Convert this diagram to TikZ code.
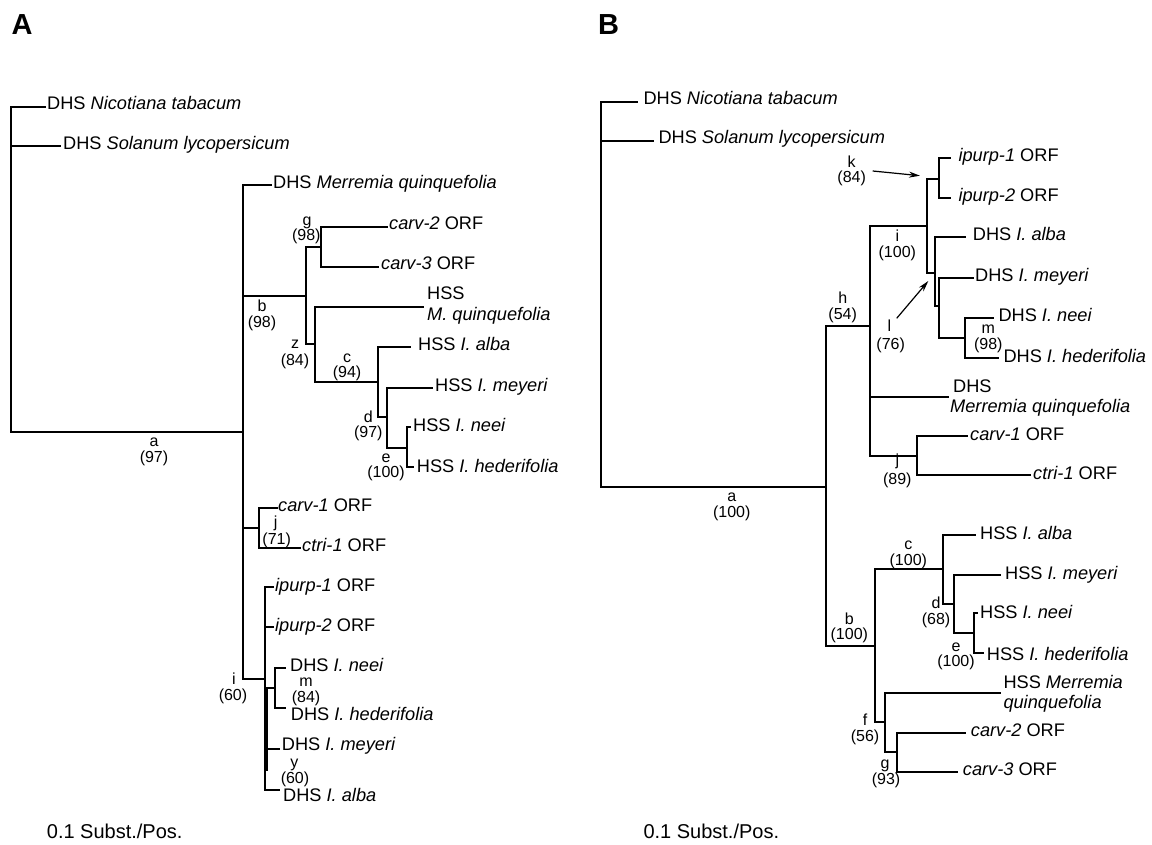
\documentclass[tikz,border=0pt]{standalone}
\usepackage{fontspec}
\setmainfont{Liberation Sans}
\usetikzlibrary{arrows.meta}
\newcommand{\myleaf}{\fontsize{18.2}{20}\selectfont}
\newcommand{\mylab}{\fontsize{16}{16}\selectfont}
\newcommand{\myscale}{\fontsize{20}{22}\selectfont}
\newcommand{\mypanel}{\fontsize{29}{30}\selectfont\bfseries}
\begin{document}
\begin{tikzpicture}[x=1pt,y=-1pt,
  br/.style={line width=2.2pt,line cap=rect,line join=miter},
  leaf/.style={anchor=base west,inner sep=0pt,font=\myleaf},
  lab/.style={anchor=center,inner sep=0pt,text height=11.5pt,text depth=0pt,font=\mylab},
  arr/.style={line width=1.2pt,-{Stealth[length=11pt,width=6pt]}},
  panel/.style={anchor=base west,inner sep=0pt,font=\mypanel},
  scaletxt/.style={anchor=base west,inner sep=0pt,font=\myscale}]
\useasboundingbox (0,0) rectangle (1152,845);
\fill[white] (0,0) rectangle (1152,845);
% ---------------- Panel A ----------------
\node[panel] (PA) at (11.5,34.3) {A};
\coordinate (Ar) at (11,106.7);
\coordinate (Anic) at (45,106.7);
\coordinate (Asol) at (60,146);
\coordinate (Aa) at (243,432);
\coordinate (Amer) at (270.7,185);
\coordinate (Ab) at (306,295.7);
\coordinate (Ag) at (320.7,246.7);
\coordinate (Acarv2) at (386.7,226.7);
\coordinate (Acarv3) at (378,266.7);
\coordinate (Az) at (315,344);
\coordinate (AhssM) at (422.7,306.7);
\coordinate (Ac) at (378.3,381.7);
\coordinate (AhssA) at (410,346.7);
\coordinate (Ad) at (387.3,417.3);
\coordinate (AhssMe) at (431.7,387.7);
\coordinate (Ae) at (407.3,448.3);
\coordinate (AhssN) at (410,427.3);
\coordinate (AhssH) at (413,467.3);
\coordinate (Aj) at (259.3,528.3);
\coordinate (Acarv1) at (276.7,507.7);
\coordinate (Actri1) at (300,548.3);
\coordinate (Ai) at (264.7,679);
\coordinate (Aip1) at (273.3,586.7);
\coordinate (Aip2) at (273.3,626.7);
\coordinate (Am) at (275,688.3);
\coordinate (AdhsN) at (285,668.3);
\coordinate (AdhsH) at (285,708.3);
\coordinate (AdhsMe) at (279.3,749.3);
\coordinate (AdhsA) at (279,790);
\coordinate (Ay1) at (266.6,688.3);
\coordinate (Ay2) at (266.6,770);

\foreach \p/\c in {Ar/Anic,Ar/Asol,Ar/Aa,Aa/Amer,Aa/Ab,Aa/Aj,Aa/Ai,Ab/Ag,Ab/Az,
  Ag/Acarv2,Ag/Acarv3,Az/AhssM,Az/Ac,Ac/AhssA,Ac/Ad,Ad/AhssMe,Ad/Ae,Ae/AhssN,Ae/AhssH,
  Aj/Acarv1,Aj/Actri1,Ai/Aip1,Ai/Aip2,Ai/Am,Ai/AdhsMe,Ai/AdhsA,Am/AdhsN,Am/AdhsH}
  \draw[br] (\p) |- (\c);
\draw[br] (Ay1) -- (Ay2);

\node[leaf] (LAnic) at (47,110) {DHS \textit{Nicotiana tabacum}};
\node[leaf] (LAsol) at (63,149.3) {DHS \textit{Solanum lycopersicum}};
\node[leaf] (LAmer) at (273,188.3) {DHS \textit{Merremia quinquefolia}};
\node[leaf] (LAcarv2) at (389,230) {\textit{carv-2} ORF};
\node[leaf] (LAcarv3) at (381,270) {\textit{carv-3} ORF};
\node[leaf] (LAhssM1) at (427,300) {HSS};
\node[leaf] (LAhssM2) at (427,320.7) {\textit{M. quinquefolia}};
\node[leaf] (LAhssA) at (418,350.5) {HSS \textit{I. alba}};
\node[leaf] (LAhssMe) at (435,391.5) {HSS \textit{I. meyeri}};
\node[leaf] (LAhssN) at (413,431.5) {HSS \textit{I. neei}};
\node[leaf] (LAhssH) at (416.7,472) {HSS \textit{I. hederifolia}};
\node[leaf] (LAcarv1) at (278,511.4) {\textit{carv-1} ORF};
\node[leaf] (LActri1) at (302,551.6) {\textit{ctri-1} ORF};
\node[leaf] (LAip1) at (275,591) {\textit{ipurp-1} ORF};
\node[leaf] (LAip2) at (275,631) {\textit{ipurp-2} ORF};
\node[leaf] (LAdhsN) at (290,671.6) {DHS \textit{I. neei}};
\node[leaf] (LAdhsH) at (290.7,720.5) {DHS \textit{I. hederifolia}};
\node[leaf] (LAdhsMe) at (281.7,750.8) {DHS \textit{I. meyeri}};
\node[leaf] (LAdhsA) at (283,801) {DHS \textit{I. alba}};

\foreach \n/\l/\x/\y/\v/\xx/\yy in {a/a/154/441/97/154/457, b/b/262/305.7/98/262/321.7,
  g/g/307/220/98/306.3/235, z/z/295/342.7/84/295/360, c/c/347/356.7/94/347/371.7,
  d/d/368.3/416.7/97/368.3/431.7, e/e/386/456.7/100/386/471.7,
  j/j/275.7/521.7/71/276.7/538.3, i/i/234/679/60/233/695, m/m/306/680.7/84/306/696.7,
  y/y/294.3/762/60/295/778}{
  \node[lab] (Al\n) at (\x,\y) {\l};
  \node[lab] (Av\n) at (\xx,\yy) {(\v)};
}
\node[scaletxt] (SA) at (46.7,838) {0.1 Subst./Pos.};

% ---------------- Panel B ----------------
\node[panel] (PB) at (598,34.3) {B};
\coordinate (Br) at (600.7,101.7);
\coordinate (Bnic) at (636.7,101.7);
\coordinate (Bsol) at (652.7,140.7);
\coordinate (Ba) at (825.7,486.7);
\coordinate (Bh) at (870,326);
\coordinate (Bi) at (927.3,225.7);
\coordinate (Bk) at (939.3,179);
\coordinate (Bip1) at (950,158.3);
\coordinate (Bip2) at (950,198.3);
\coordinate (Bl) at (935,272.7);
\coordinate (BdhsA) at (965,237.3);
\coordinate (Bx) at (939.3,306);
\coordinate (BdhsMe) at (972.7,278.3);
\coordinate (Bm) at (965,338.3);
\coordinate (BdhsN) at (993.3,317.7);
\coordinate (BdhsH) at (998.3,357.7);
\coordinate (Bmer) at (948.3,396.7);
\coordinate (Bj) at (916.7,455.7);
\coordinate (Bcarv1) at (966.7,436);
\coordinate (Bctri1) at (1030,475);
\coordinate (Bb) at (875,645.7);
\coordinate (Bc) at (943.3,569);
\coordinate (BhssA) at (975,535);
\coordinate (Bd) at (954,604);
\coordinate (BhssMe) at (1000,575);
\coordinate (Be) at (974,633.3);
\coordinate (BhssN) at (977.3,613.3);
\coordinate (BhssH) at (983.3,653.3);
\coordinate (Bf) at (885,721.7);
\coordinate (BhssM) at (1000,692.7);
\coordinate (Bg) at (897.3,751.7);
\coordinate (Bcarv2) at (965,732.7);
\coordinate (Bcarv3) at (956.7,771.7);

\foreach \p/\c in {Br/Bnic,Br/Bsol,Br/Ba,Ba/Bh,Ba/Bb,Bh/Bi,Bh/Bmer,Bh/Bj,Bi/Bk,Bi/Bl,
  Bk/Bip1,Bk/Bip2,Bl/BdhsA,Bl/Bx,Bx/BdhsMe,Bx/Bm,Bm/BdhsN,Bm/BdhsH,Bj/Bcarv1,Bj/Bctri1,
  Bb/Bc,Bb/Bf,Bc/BhssA,Bc/Bd,Bd/BhssMe,Bd/Be,Be/BhssN,Be/BhssH,Bf/BhssM,Bf/Bg,
  Bg/Bcarv2,Bg/Bcarv3}
  \draw[br] (\p) |- (\c);

\node[leaf] (LBnic) at (643.3,105) {DHS \textit{Nicotiana tabacum}};
\node[leaf] (LBsol) at (658.3,144) {DHS \textit{Solanum lycopersicum}};
\node[leaf] (LBip1) at (958.3,161.7) {\textit{ipurp-1} ORF};
\node[leaf] (LBip2) at (958.3,201.7) {\textit{ipurp-2} ORF};
\node[leaf] (LBdhsA) at (972.7,241) {DHS \textit{I. alba}};
\node[leaf] (LBdhsMe) at (975,282) {DHS \textit{I. meyeri}};
\node[leaf] (LBdhsN) at (998.3,321) {DHS \textit{I. neei}};
\node[leaf] (LBdhsH) at (1003.3,362) {DHS \textit{I. hederifolia}};
\node[leaf] (LBmer1) at (953,392.4) {DHS};
\node[leaf] (LBmer2) at (950,412.4) {\textit{Merremia quinquefolia}};
\node[leaf] (LBcarv1) at (970,440) {\textit{carv-1} ORF};
\node[leaf] (LBctri1) at (1033,479) {\textit{ctri-1} ORF};
\node[leaf] (LBhssA) at (980,539.5) {HSS \textit{I. alba}};
\node[leaf] (LBhssMe) at (1005,579.5) {HSS \textit{I. meyeri}};
\node[leaf] (LBhssN) at (980,618.5) {HSS \textit{I. neei}};
\node[leaf] (LBhssH) at (986.7,660) {HSS \textit{I. hederifolia}};
\node[leaf] (LBhssM1) at (1003.3,688) {HSS \textit{Merremia}};
\node[leaf] (LBhssM2) at (1003.3,708.7) {\textit{quinquefolia}};
\node[leaf] (LBcarv2) at (970.7,736.5) {\textit{carv-2} ORF};
\node[leaf] (LBcarv3) at (962.7,775.5) {\textit{carv-3} ORF};

\foreach \n/\l/\x/\y/\v/\xx/\yy in {a/a/731.7/496/100/731.7/512, h/h/842.7/297.3/54/842.7/313.3,
  k/k/851.7/161.7/84/851.7/176.7, i/i/897.3/236/100/897.3/251.7, l/l/889.3/326/76/890.7/343.3,
  m/m/988.3/327.3/98/988.3/343.3, j/j/897.3/460/89/897.3/478.3, b/b/849.3/618.3/100/849.3/633.3,
  c/c/908.3/544/100/908.3/559.3, d/d/936/602.3/68/936/618.3, e/e/956/646/100/956/660.7,
  f/f/865/720/56/865/735.7, g/g/885/762.7/93/886/778.3}{
  \node[lab] (Bl\n) at (\x,\y) {\l};
  \node[lab] (Bv\n) at (\xx,\yy) {(\v)};
}
\coordinate (Bk0) at (872.7,171);
\coordinate (Bk1) at (920,175.7);
\coordinate (Bl0) at (896.7,318.3);
\coordinate (Bl1) at (928.3,281);
\draw[arr] (Bk0) -- (Bk1);
\draw[arr] (Bl0) -- (Bl1);
\node[scaletxt] (SB) at (643.3,838) {0.1 Subst./Pos.};
\end{tikzpicture}
\end{document}
